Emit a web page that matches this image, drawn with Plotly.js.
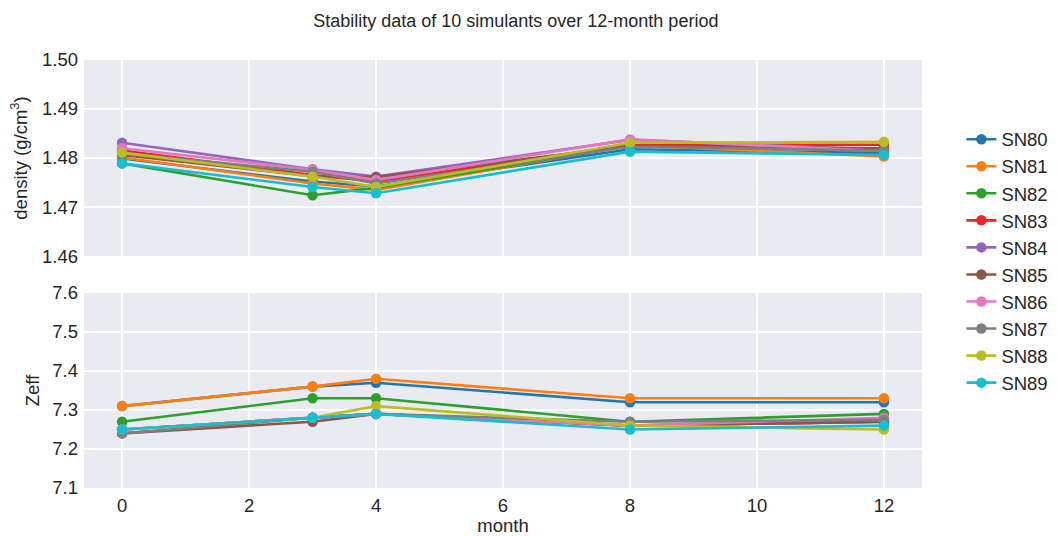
<!DOCTYPE html>
<html>
<head>
<meta charset="utf-8">
<script src="https://cdn.plot.ly/plotly-3.0.1.min.js"></script>
<style>html,body{margin:0;padding:0;background:#fff;}#chart{width:1057px;height:536px;}</style>
</head>
<body>
<div id="chart"></div>
<script>
const months = [0, 3, 4, 8, 12];
const names = ["SN80","SN81","SN82","SN83","SN84","SN85","SN86","SN87","SN88","SN89"];
const colors = ["#1f77b4","#ff7f0e","#2ca02c","#e8262a","#9467bd","#8c564b","#e377c2","#7f7f7f","#bcbd22","#17becf"];

const densitySN80 = [1.4799, 1.4752, 1.4742, 1.4818, 1.4810];
const densitySN81 = [1.4801, 1.4748, 1.4735, 1.4826, 1.4803];
const densitySN82 = [1.4789, 1.4724, 1.4739, 1.4825, 1.4815];
const densitySN83 = [1.4815, 1.4765, 1.4752, 1.4827, 1.4827];
const densitySN84 = [1.4831, 1.4777, 1.4762, 1.4837, 1.4817];
const densitySN85 = [1.4806, 1.4763, 1.4761, 1.4824, 1.4820];
const densitySN86 = [1.4820, 1.4776, 1.4755, 1.4838, 1.4814];
const densitySN87 = [1.4809, 1.4772, 1.4748, 1.4823, 1.4815];
const densitySN88 = [1.4811, 1.4762, 1.4741, 1.4831, 1.4833];
const densitySN89 = [1.4789, 1.4741, 1.4728, 1.4813, 1.4806];

const zeffSN80 = [7.31, 7.36, 7.37, 7.32, 7.32];
const zeffSN81 = [7.31, 7.36, 7.38, 7.33, 7.33];
const zeffSN82 = [7.27, 7.33, 7.33, 7.27, 7.29];
const zeffSN83 = [7.25, 7.28, 7.29, 7.26, 7.27];
const zeffSN84 = [7.25, 7.28, 7.29, 7.26, 7.27];
const zeffSN85 = [7.24, 7.27, 7.29, 7.26, 7.27];
const zeffSN86 = [7.25, 7.28, 7.29, 7.26, 7.28];
const zeffSN87 = [7.24, 7.28, 7.29, 7.27, 7.275];
const zeffSN88 = [7.25, 7.28, 7.31, 7.26, 7.25];
const zeffSN89 = [7.25, 7.28, 7.29, 7.25, 7.26];

const density = [densitySN80,densitySN81,densitySN82,densitySN83,densitySN84,densitySN85,densitySN86,densitySN87,densitySN88,densitySN89];
const zeff = [zeffSN80,zeffSN81,zeffSN82,zeffSN83,zeffSN84,zeffSN85,zeffSN86,zeffSN87,zeffSN88,zeffSN89];

const traces = [];
names.forEach((n, i) => {
  traces.push({x: months, y: density[i], xaxis: 'x2', yaxis: 'y2', name: n, legendgroup: n,
    mode: 'lines+markers', line: {color: colors[i], width: 2.6}, marker: {color: colors[i], size: 10.5}, showlegend: true});
});
names.forEach((n, i) => {
  traces.push({x: months, y: zeff[i], xaxis: 'x', yaxis: 'y', name: n, legendgroup: n,
    mode: 'lines+markers', line: {color: colors[i], width: 2.6}, marker: {color: colors[i], size: 10.5}, showlegend: false});
});

const fam = 'Liberation Sans, Arial, sans-serif';
const font = {family: fam, size: 18.5, color: '#262626'};
const axCommon = {showgrid: true, gridcolor: '#ffffff', gridwidth: 1.6, zeroline: false, showline: false, ticks: '', tickfont: font, automargin: false};

const layout = {
  width: 1057, height: 536,
  paper_bgcolor: '#ffffff', plot_bgcolor: '#eaeaf2',
  margin: {l: 84, r: 135, t: 60, b: 48, autoexpand: false},
  font: font,
  title: {text: 'Stability data of 10 simulants over 12-month period', font: {family: fam, size: 18, color: '#262626'},
    xref: 'container', x: 0.488, xanchor: 'center', yref: 'container', y: 0.962, yanchor: 'middle'},
  xaxis: Object.assign({}, axCommon, {domain: [0,1], anchor: 'y', range: [-0.6, 12.6], tickvals: [0,2,4,6,8,10,12],
    ticklabelstandoff: 4, title: {text: 'month', font: font, standoff: 10}}),
  xaxis2: Object.assign({}, axCommon, {domain: [0,1], anchor: 'y2', matches: 'x', range: [-0.6, 12.6], tickvals: [0,2,4,6,8,10,12], showticklabels: false}),
  yaxis: Object.assign({}, axCommon, {domain: [0, 0.4556], anchor: 'x', range: [7.1, 7.6], tickvals: [7.1,7.2,7.3,7.4,7.5,7.6], tickformat: '.1f',
    ticklabelstandoff: 5, title: {text: 'Zeff', font: font, standoff: 7}}),
  yaxis2: Object.assign({}, axCommon, {domain: [0.542, 1], anchor: 'x2', range: [1.46, 1.50], tickvals: [1.46,1.47,1.48,1.49,1.50], tickformat: '.2f',
    ticklabelstandoff: 5, title: {text: 'density (g/cm<sup>3</sup>)', font: font, standoff: 9}}),
  legend: {x: 1.047, xanchor: 'left', y: 0.53, yanchor: 'middle', font: font, bgcolor: 'rgba(0,0,0,0)', tracegroupgap: 0, itemwidth: 30},
  showlegend: true
};

Plotly.newPlot('chart', traces, layout, {displayModeBar: false, staticPlot: true});
</script>
</body>
</html>
